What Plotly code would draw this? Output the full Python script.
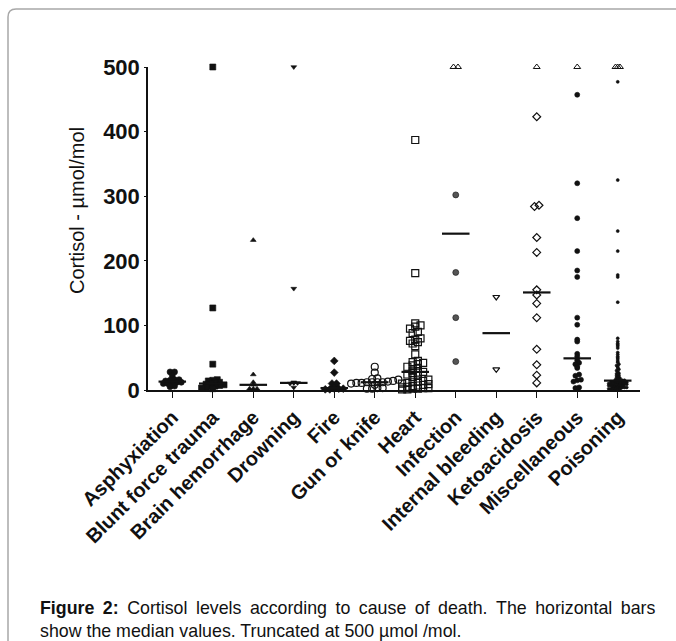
import numpy as np
import plotly.graph_objects as go

categories = ["Asphyxiation", "Blunt force trauma", "Brain hemorrhage", "Drowning",
              "Fire", "Gun or knife", "Heart", "Infection", "Internal bleeding",
              "Ketoacidosis", "Miscellaneous", "Poisoning"]

asphyxiation = [28, 28, 22, 16, 16, 15, 14, 12, 12, 11, 10, 10, 6, 5]
blunt_force_trauma = [500, 127, 40, 16, 15, 14, 12, 11, 10, 9, 8, 7, 6, 5, 4, 3, 2]
brain_hemorrhage = [232, 24, 12, 8, 2, 2, 2]
drowning = [500, 157, 12, 11, 11, 10, 4]
fire = [45, 27, 10, 10, 3, 3, 2, 2, 2, 1, 1]
gun_or_knife = [36, 27, 18, 17, 16, 14, 13, 12, 12, 12, 12, 11, 11, 10, 8, 3, 3, 2, 2]
heart = [387, 181, 103, 100, 98, 95, 90, 88, 80, 78, 76, 74, 72, 68, 55, 45, 43, 42,
         40, 38, 36, 33, 30, 28, 27, 26, 24, 22, 20, 16, 14, 13, 12, 11, 10, 9, 8, 7,
         6, 5, 4, 3, 3, 2, 2, 1, 1]
infection = [500, 500, 302, 182, 112, 44]
internal_bleeding = [144, 32]
ketoacidosis = [500, 423, 286, 284, 236, 213, 155, 147, 134, 112, 63, 39, 23, 11]
miscellaneous = [500, 457, 320, 266, 215, 185, 175, 112, 101, 78, 75, 56, 52,
                 46, 42, 40, 36, 34, 24, 22, 16, 15, 13, 4, 3, 2]
poisoning = [500, 500, 500, 477, 325, 246, 215, 178, 175, 136,
             80, 75, 72, 70, 68, 65, 58, 55, 52, 50, 48, 45, 43, 40, 38, 36, 34, 32,
             30, 28, 26, 25, 23, 22, 20, 19, 18, 17, 16, 15, 15,
             14, 14, 13, 13, 13, 12, 12, 12, 11, 11, 11, 10, 10, 10, 9, 9, 9, 8, 8, 8,
             7, 7, 7, 6, 6, 6, 5, 5, 5, 4, 4, 4, 3, 3, 3, 2, 2, 2, 1, 1, 1]

series = [asphyxiation, blunt_force_trauma, brain_hemorrhage, drowning, fire,
          gun_or_knife, heart, infection, internal_bleeding, ketoacidosis,
          miscellaneous, poisoning]

y_ticks = [0, 100, 200, 300, 400, 500]
truncation = 500

# ---- styles ----
BLACK = "#111111"
styles = [
    dict(symbol="circle", size=6, color=BLACK),
    dict(symbol="square", size=6, color=BLACK),
    dict(symbol="triangle-up", size=5, color=BLACK),
    dict(symbol="triangle-down", size=5, color=BLACK),
    dict(symbol="diamond", size=6, color=BLACK),
    dict(symbol="circle-open", size=7, color=BLACK),
    dict(symbol="square-open", size=7, color=BLACK),
    dict(symbol="circle", size=6, color="#555555"),
    dict(symbol="triangle-down-open", size=6, color=BLACK),
    dict(symbol="diamond-open", size=6, color=BLACK),
    dict(symbol="circle", size=5, color=BLACK),
    dict(symbol="circle", size=3, color=BLACK),
]
open_truncated = {7, 9, 10, 11}

W, H = 676, 641
L, R, T, B = 148, 36, 67, 251
plot_w = W - L - R
plot_h = H - T - B
x_range = [-0.6, 11.55]
y_range = [0, 500]
XS = plot_w / (x_range[1] - x_range[0])
YS = plot_h / (y_range[1] - y_range[0])


def row_scatter(vals, size):
    """Column-scatter layout: values binned into pixel rows, each row centred."""
    vals = np.asarray(vals, dtype=float)
    rowh = size * 0.6
    dx = size * 0.75
    rows = np.floor(vals * YS / rowh + 0.5).astype(int)
    offs = np.zeros(len(vals))
    for r in np.unique(rows):
        idx = np.where(rows == r)[0]
        idx = idx[np.argsort(vals[idx], kind="stable")]
        n = len(idx)
        offs[idx] = (np.arange(n) - (n - 1) / 2) * dx
    return offs / XS


fig = go.Figure()

for i, vals in enumerate(series):
    st = styles[i]
    offs = row_scatter(vals, st["size"])
    v = np.asarray(vals, dtype=float)
    xs = i + offs
    trunc_mask = (v >= truncation) & (i in open_truncated)
    norm = ~trunc_mask
    open_sym = st["symbol"].endswith("-open")
    fig.add_trace(go.Scatter(
        x=xs[norm], y=v[norm], mode="markers", cliponaxis=False, showlegend=False,
        marker=dict(symbol=st["symbol"], size=st["size"],
                    color=st["color"],
                    line=dict(width=1.2 if open_sym else 0.6, color=BLACK)),
    ))
    if trunc_mask.any():
        fig.add_trace(go.Scatter(
            x=xs[trunc_mask], y=v[trunc_mask], mode="markers", cliponaxis=False,
            showlegend=False,
            marker=dict(symbol="triangle-up-open", size=6, color=BLACK,
                        line=dict(width=1, color=BLACK)),
        ))
    med = float(np.median(v))
    fig.add_trace(go.Scatter(
        x=[i - 0.34, i + 0.34], y=[med, med], mode="lines", cliponaxis=False,
        showlegend=False, line=dict(color=BLACK, width=2.2),
    ))


def px_to_paper(px, py):
    return (px - L) / plot_w, (H - B - py) / plot_h


# frame with rounded top-left corner
r = 8
pts = [(8, 700), (8, 9 + r), (8, 9), (8 + r, 9), (720, 9)]
pp = [px_to_paper(*p) for p in pts]
path = (f"M {pp[0][0]},{pp[0][1]} L {pp[1][0]},{pp[1][1]} "
        f"Q {pp[2][0]},{pp[2][1]} {pp[3][0]},{pp[3][1]} L {pp[4][0]},{pp[4][1]}")

TS = "\u2009"
line1 = ("<b>Figure 2:</b> Cortisol levels according to cause of death. The horizontal bars"
         ).replace(" ", " " + TS)
line2 = "show the median values. Truncated at 500 µmol /mol."

fig.update_layout(
    width=W, height=H,
    margin=dict(l=L, r=R, t=T, b=B, autoexpand=False),
    paper_bgcolor="white", plot_bgcolor="white",
    font=dict(family="Liberation Sans, Arial, sans-serif", color=BLACK),
    shapes=[dict(type="path", path=path, xref="paper", yref="paper",
                 line=dict(color="#a8a8a8", width=1.5), layer="below")],
    xaxis=dict(range=x_range, tickmode="array", tickvals=list(range(len(categories))),
               ticktext=categories, tickangle=-45, showgrid=False, zeroline=False,
               showline=True, linecolor=BLACK, linewidth=1.5, ticks="outside",
               ticklen=6, tickwidth=1.3, tickcolor=BLACK,
               tickfont=dict(size=20, family="Liberation Sans, Arial, sans-serif",
                             weight="bold", color=BLACK)),
    yaxis=dict(range=y_range, tickmode="array", tickvals=y_ticks,
               showgrid=False, zeroline=False, showline=True, linecolor=BLACK,
               linewidth=1.5, ticks="outside", ticklen=2, tickwidth=1.3,
               tickcolor=BLACK,
               tickfont=dict(size=22, family="Liberation Sans, Arial, sans-serif",
                             weight="bold", color=BLACK)),
    annotations=[
        dict(text="Cortisol - µmol/mol", x=px_to_paper(77, 0)[0],
             y=px_to_paper(0, 211)[1], xref="paper", yref="paper", textangle=-90,
             showarrow=False, xanchor="center", yanchor="middle",
             font=dict(size=20, color=BLACK)),
        dict(text=line1 + "<br>" + line2,
             x=px_to_paper(38, 0)[0], y=px_to_paper(0, 596)[1], xref="paper",
             yref="paper", showarrow=False, xanchor="left", yanchor="top",
             align="left", font=dict(size=17.8, color=BLACK)),
    ],
)

fig.write_html("out.html", config={"displayModeBar": False},
               post_script="document.body.style.margin='0';")
